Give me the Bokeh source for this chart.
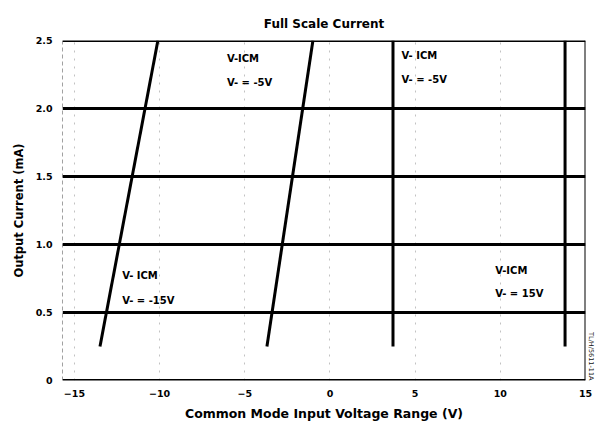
from bokeh.plotting import figure
from bokeh.models import Range1d, Span, Title, FixedTicker, ColumnDataSource
from bokeh.core.properties import value
from bokeh.embed import file_html
from bokeh.resources import INLINE

# ---- data ----
current_ma = [0.25, 2.5]
vcm_vneg_m15 = [-13.5, -10.1]
vcm_vneg_m5 = [-3.7, -1.0]
vcm_vneg_p5 = [3.7, 3.7]
vcm_vneg_p15 = [13.8, 13.8]

x_ticks = [-15, -10, -5, 0, 5, 10, 15]
y_ticks = [0, 0.5, 1.0, 1.5, 2.0, 2.5]
y_tick_labels = ["0", "0.5", "1.0", "1.5", "2.0", "2.5"]

title_text = "Full Scale Current"
figure_id = "TL/H/5611-11A"
ann_top = ["V-ICM", "V- ICM", "V- ICM", "V-ICM"]
ann_bot = ["V- = -5V", "V- = -5V", "V- = -15V", "V- = 15V"]
ann_x = [-6.05, 4.2, -12.2, 9.7]
ann_y1 = [2.37, 2.39, 0.77, 0.81]
ann_y2 = [2.19, 2.21, 0.59, 0.64]

FONT = "DejaVu Sans"
X0, X1 = -15.7, 15.0
Y0, Y1 = 0, 2.5

p = figure(width=597, height=423, output_backend="svg", toolbar_location=None,
           x_range=Range1d(X0, X1), y_range=Range1d(Y0, Y1),
           min_border_left=62, min_border_right=12, min_border_top=40,
           min_border_bottom=40)

p.outline_line_color = None
p.background_fill_color = "white"
p.border_fill_color = "white"

# title
p.title.text = title_text
p.title.align = "center"
p.title.text_font = FONT
p.title.text_font_size = "12px"
p.title.text_font_style = "bold"
p.title.text_color = "black"
p.title.standoff = 20

# small rotated figure id at the right edge, near the bottom
p.add_layout(Title(text=figure_id, align="right", text_font=FONT, text_font_size="6.5px",
                   text_font_style="normal", text_color="#111111", standoff=2),
             "right")

# grids
p.ygrid.ticker = FixedTicker(ticks=y_ticks)
p.ygrid.grid_line_color = "black"
p.ygrid.grid_line_width = 3
p.xgrid.ticker = FixedTicker(ticks=x_ticks)
p.xgrid.grid_line_color = "#9a9a9a"
p.xgrid.grid_line_width = 1
p.xgrid.grid_line_dash = "2 6"
p.xgrid.grid_line_alpha = 0.6

# borders
p.add_layout(Span(location=Y0, dimension="width", line_color="black", line_width=3))
p.add_layout(Span(location=Y1, dimension="width", line_color="black", line_width=3))
p.add_layout(Span(location=X1, dimension="height", line_color="black", line_width=2))
p.add_layout(Span(location=X0, dimension="height", line_color="#444444", line_width=1,
                  line_dash="4 3"))

# axes
for ax in (p.xaxis, p.yaxis):
    ax.axis_line_color = None
    ax.major_tick_line_color = None
    ax.minor_tick_line_color = None
    ax.major_tick_out = 0
    ax.major_tick_in = 0
    ax.minor_tick_out = 0
    ax.minor_tick_in = 0
    ax.major_label_text_font = FONT
    ax.major_label_text_font_style = "bold"
    ax.major_label_text_font_size = "9.5px"
    ax.major_label_text_color = "black"
    ax.axis_label_text_font = FONT
    ax.axis_label_text_font_style = "bold"
    ax.axis_label_text_color = "black"

p.xaxis.ticker = FixedTicker(ticks=x_ticks)
p.xaxis.major_label_standoff = 9
p.xaxis.axis_label = "Common Mode Input Voltage Range (V)"
p.xaxis.axis_label_standoff = 6
p.xaxis.axis_label_text_font_size = "12.5px"

p.yaxis.ticker = FixedTicker(ticks=y_ticks)
p.yaxis.major_label_overrides = {t: l for t, l in zip(y_ticks, y_tick_labels)}
p.yaxis.major_label_standoff = 10
p.yaxis.axis_label = "Output Current (mA)"
p.yaxis.axis_label_standoff = 7
p.yaxis.axis_label_text_font_size = "11.5px"

# curves
for xs in (vcm_vneg_m15, vcm_vneg_m5, vcm_vneg_p5, vcm_vneg_p15):
    p.line(xs, current_ma, line_color="black", line_width=3)

# annotations
src1 = ColumnDataSource(dict(x=ann_x, y=ann_y1, t=ann_top))
src2 = ColumnDataSource(dict(x=ann_x, y=ann_y2, t=ann_bot))
for s in (src1, src2):
    p.text(x="x", y="y", text="t", source=s, text_font=value(FONT),
           text_font_style="bold", text_font_size="10px", text_color="black",
           text_baseline="middle", text_align="left")

open("out.html", "w").write(file_html(p, INLINE))
